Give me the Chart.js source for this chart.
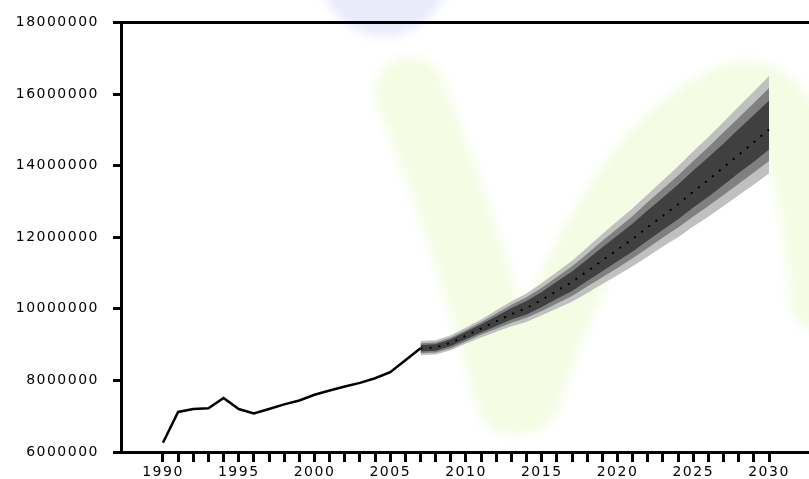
<!DOCTYPE html>
<html>
<head>
<meta charset="utf-8">
<script src="https://cdn.jsdelivr.net/npm/chart.js@4.4.1/dist/chart.umd.min.js"></script>
<style>
  html, body { margin: 0; padding: 0; background: #ffffff; }
  #wrap { width: 809px; height: 479px; position: relative; }
</style>
</head>
<body>
<div id="wrap"><canvas id="fanChart"></canvas></div>
<script>
// values in millions
const M = 1000000;

// observed series
const histYears  = [1990, 1991, 1992, 1993, 1994, 1995, 1996, 1997, 1998, 1999, 2000, 2001, 2002, 2003, 2004, 2005, 2006, 2007];
const histValues = [6.26, 7.12, 7.20, 7.22, 7.51, 7.20, 7.08, 7.20, 7.33, 7.44, 7.60, 7.72, 7.83, 7.93, 8.06, 8.23, 8.56, 8.90];

// projection: central path and three fan bands
const fanYears   = [2007, 2008, 2009, 2010, 2011, 2012, 2013, 2014, 2015, 2016, 2017, 2018, 2019, 2020, 2021, 2022, 2023, 2024, 2025, 2026, 2027, 2028, 2029, 2030];
const fanCentre  = [8.90, 8.92, 9.05, 9.25, 9.45, 9.65, 9.85, 10.02, 10.25, 10.50, 10.75, 11.05, 11.35, 11.65, 11.95, 12.28, 12.60, 12.92, 13.27, 13.60, 13.95, 14.30, 14.65, 15.01];
const outerUpper = [9.10, 9.12, 9.26, 9.48, 9.70, 9.96, 10.21, 10.43, 10.72, 11.03, 11.34, 11.71, 12.09, 12.45, 12.81, 13.20, 13.59, 13.98, 14.40, 14.80, 15.22, 15.65, 16.07, 16.50];
const outerLower = [8.70, 8.72, 8.84, 9.03, 9.20, 9.36, 9.51, 9.63, 9.82, 10.01, 10.20, 10.44, 10.69, 10.94, 11.19, 11.46, 11.74, 12.00, 12.30, 12.57, 12.87, 13.17, 13.47, 13.78];
const midUpper   = [9.04, 9.06, 9.20, 9.41, 9.63, 9.87, 10.11, 10.32, 10.59, 10.89, 11.19, 11.54, 11.90, 12.24, 12.59, 12.98, 13.35, 13.72, 14.13, 14.52, 14.93, 15.34, 15.75, 16.17];
const midLower   = [8.76, 8.78, 8.90, 9.09, 9.28, 9.44, 9.61, 9.75, 9.94, 10.15, 10.36, 10.62, 10.88, 11.14, 11.41, 11.70, 11.99, 12.27, 12.58, 12.87, 13.18, 13.49, 13.81, 14.13];
const darkUpper  = [8.99, 9.01, 9.15, 9.36, 9.57, 9.79, 10.02, 10.22, 10.47, 10.76, 11.04, 11.38, 11.72, 12.05, 12.38, 12.75, 13.11, 13.47, 13.86, 14.23, 14.62, 15.02, 15.41, 15.82];
const darkLower  = [8.81, 8.83, 8.96, 9.15, 9.34, 9.52, 9.70, 9.84, 10.05, 10.28, 10.50, 10.78, 11.05, 11.33, 11.60, 11.91, 12.21, 12.50, 12.83, 13.13, 13.46, 13.79, 14.11, 14.45];

// axes
const xTickLabels = ['1990', '1995', '2000', '2005', '2010', '2015', '2020', '2025', '2030'];
const firstTickYear = 1990;
const lastTickYear = 2030;
const yTicks = [6000000, 8000000, 10000000, 12000000, 14000000, 16000000, 18000000];

function toPoints(xs, ys) {
    return xs.map((x, i) => ({ x: x, y: ys[i] * M }));
}

function band(values, color, fill, order) {
    return {
        data: toPoints(fanYears, values),
        borderWidth: 0,
        borderColor: 'rgba(0,0,0,0)',
        backgroundColor: color,
        fill: fill,
        pointRadius: 0,
        order: order
    };
}

// faint logo behind the plot, plus letter spacing for the tick text
const watermark = {
    id: 'watermark',
    beforeDraw(chart) {
        const ctx = chart.ctx;
        ctx.save();
        ctx.filter = 'blur(5px)';
        ctx.fillStyle = '#e9ebfb';
        ctx.beginPath();
        ctx.arc(384, -28, 64, 0, Math.PI * 2);
        ctx.fill();

        ctx.strokeStyle = '#f4fce4';
        ctx.lineCap = 'round';
        ctx.lineWidth = 70;
        ctx.beginPath();
        ctx.moveTo(410, 92);
        ctx.quadraticCurveTo(460, 215, 512, 400);
        ctx.stroke();

        ctx.lineWidth = 64;
        ctx.beginPath();
        ctx.moveTo(528, 398);
        ctx.quadraticCurveTo(612, 140, 735, 95);
        ctx.quadraticCurveTo(806, 72, 822, 300);
        ctx.stroke();
        ctx.restore();
        ctx.letterSpacing = '1.5px';
    }
};

const frameTop = {
    id: 'frameTop',
    afterDraw(chart) {
        const { ctx, chartArea } = chart;
        ctx.save();
        ctx.strokeStyle = '#000000';
        ctx.lineWidth = 3;
        ctx.beginPath();
        ctx.moveTo(chartArea.left, chartArea.top);
        ctx.lineTo(chart.width, chartArea.top);
        ctx.stroke();
        ctx.restore();
    }
};

let fanChart;

document.addEventListener('DOMContentLoaded', function () {
    const ctx = document.getElementById('fanChart').getContext('2d');
    createFanChart(ctx);
});

function createFanChart(context) {
    fanChart = new Chart(context, {
        type: 'line',
        data: {
            datasets: [
                {
                    label: 'Observed',
                    data: toPoints(histYears, histValues),
                    borderColor: '#000000',
                    borderWidth: 2.5,
                    pointRadius: 0,
                    fill: false,
                    order: 0
                },
                {
                    label: 'Central',
                    data: toPoints(fanYears, fanCentre),
                    borderColor: '#000000',
                    borderWidth: 2,
                    borderDash: [2, 7],
                    pointRadius: 0,
                    fill: false,
                    order: 1
                },
                band(darkUpper, '#404040', '+1', 2),
                band(darkLower, 'rgba(0,0,0,0)', false, 2),
                band(midUpper, '#808080', '+1', 3),
                band(midLower, 'rgba(0,0,0,0)', false, 3),
                band(outerUpper, '#c0c0c0', '+1', 4),
                band(outerLower, 'rgba(0,0,0,0)', false, 4)
            ]
        },
        options: {
            responsive: true,
            maintainAspectRatio: false,
            animation: false,
            layout: { padding: { top: 21, right: 0, left: 0, bottom: 0 } },
            plugins: {
                legend: { display: false },
                tooltip: { enabled: false }
            },
            scales: {
                x: {
                    type: 'linear',
                    min: 1987.23,
                    max: 2032.64,
                    afterBuildTicks: function (scale) {
                        const ticks = [];
                        for (let y = firstTickYear; y <= lastTickYear; y++) {
                            ticks.push({ value: y });
                        }
                        scale.ticks = ticks;
                    },
                    afterFit: function (scale) { scale.height = 27; },
                    ticks: {
                        autoSkip: false,
                        maxRotation: 0,
                        padding: 2,
                        color: '#000000',
                        font: { family: 'DejaVu Sans', size: 14 },
                        callback: function (value) {
                            const s = String(value);
                            return xTickLabels.includes(s) ? s : '';
                        }
                    },
                    grid: {
                        drawOnChartArea: false,
                        color: '#000000',
                        tickLength: 10,
                        lineWidth: 3
                    },
                    border: { color: '#000000', width: 3 }
                },
                y: {
                    min: 6000000,
                    max: 18000000,
                    afterBuildTicks: function (scale) {
                        scale.ticks = yTicks.map(v => ({ value: v }));
                    },
                    afterFit: function (scale) { scale.width = 121; },
                    ticks: {
                        padding: 14,
                        color: '#000000',
                        font: { family: 'DejaVu Sans', size: 14 },
                        callback: function (value) { return String(value); }
                    },
                    grid: {
                        drawOnChartArea: false,
                        color: '#000000',
                        tickLength: 8,
                        lineWidth: 3
                    },
                    border: { color: '#000000', width: 3 }
                }
            }
        },
        plugins: [watermark, frameTop]
    });
}
</script>
</body>
</html>
